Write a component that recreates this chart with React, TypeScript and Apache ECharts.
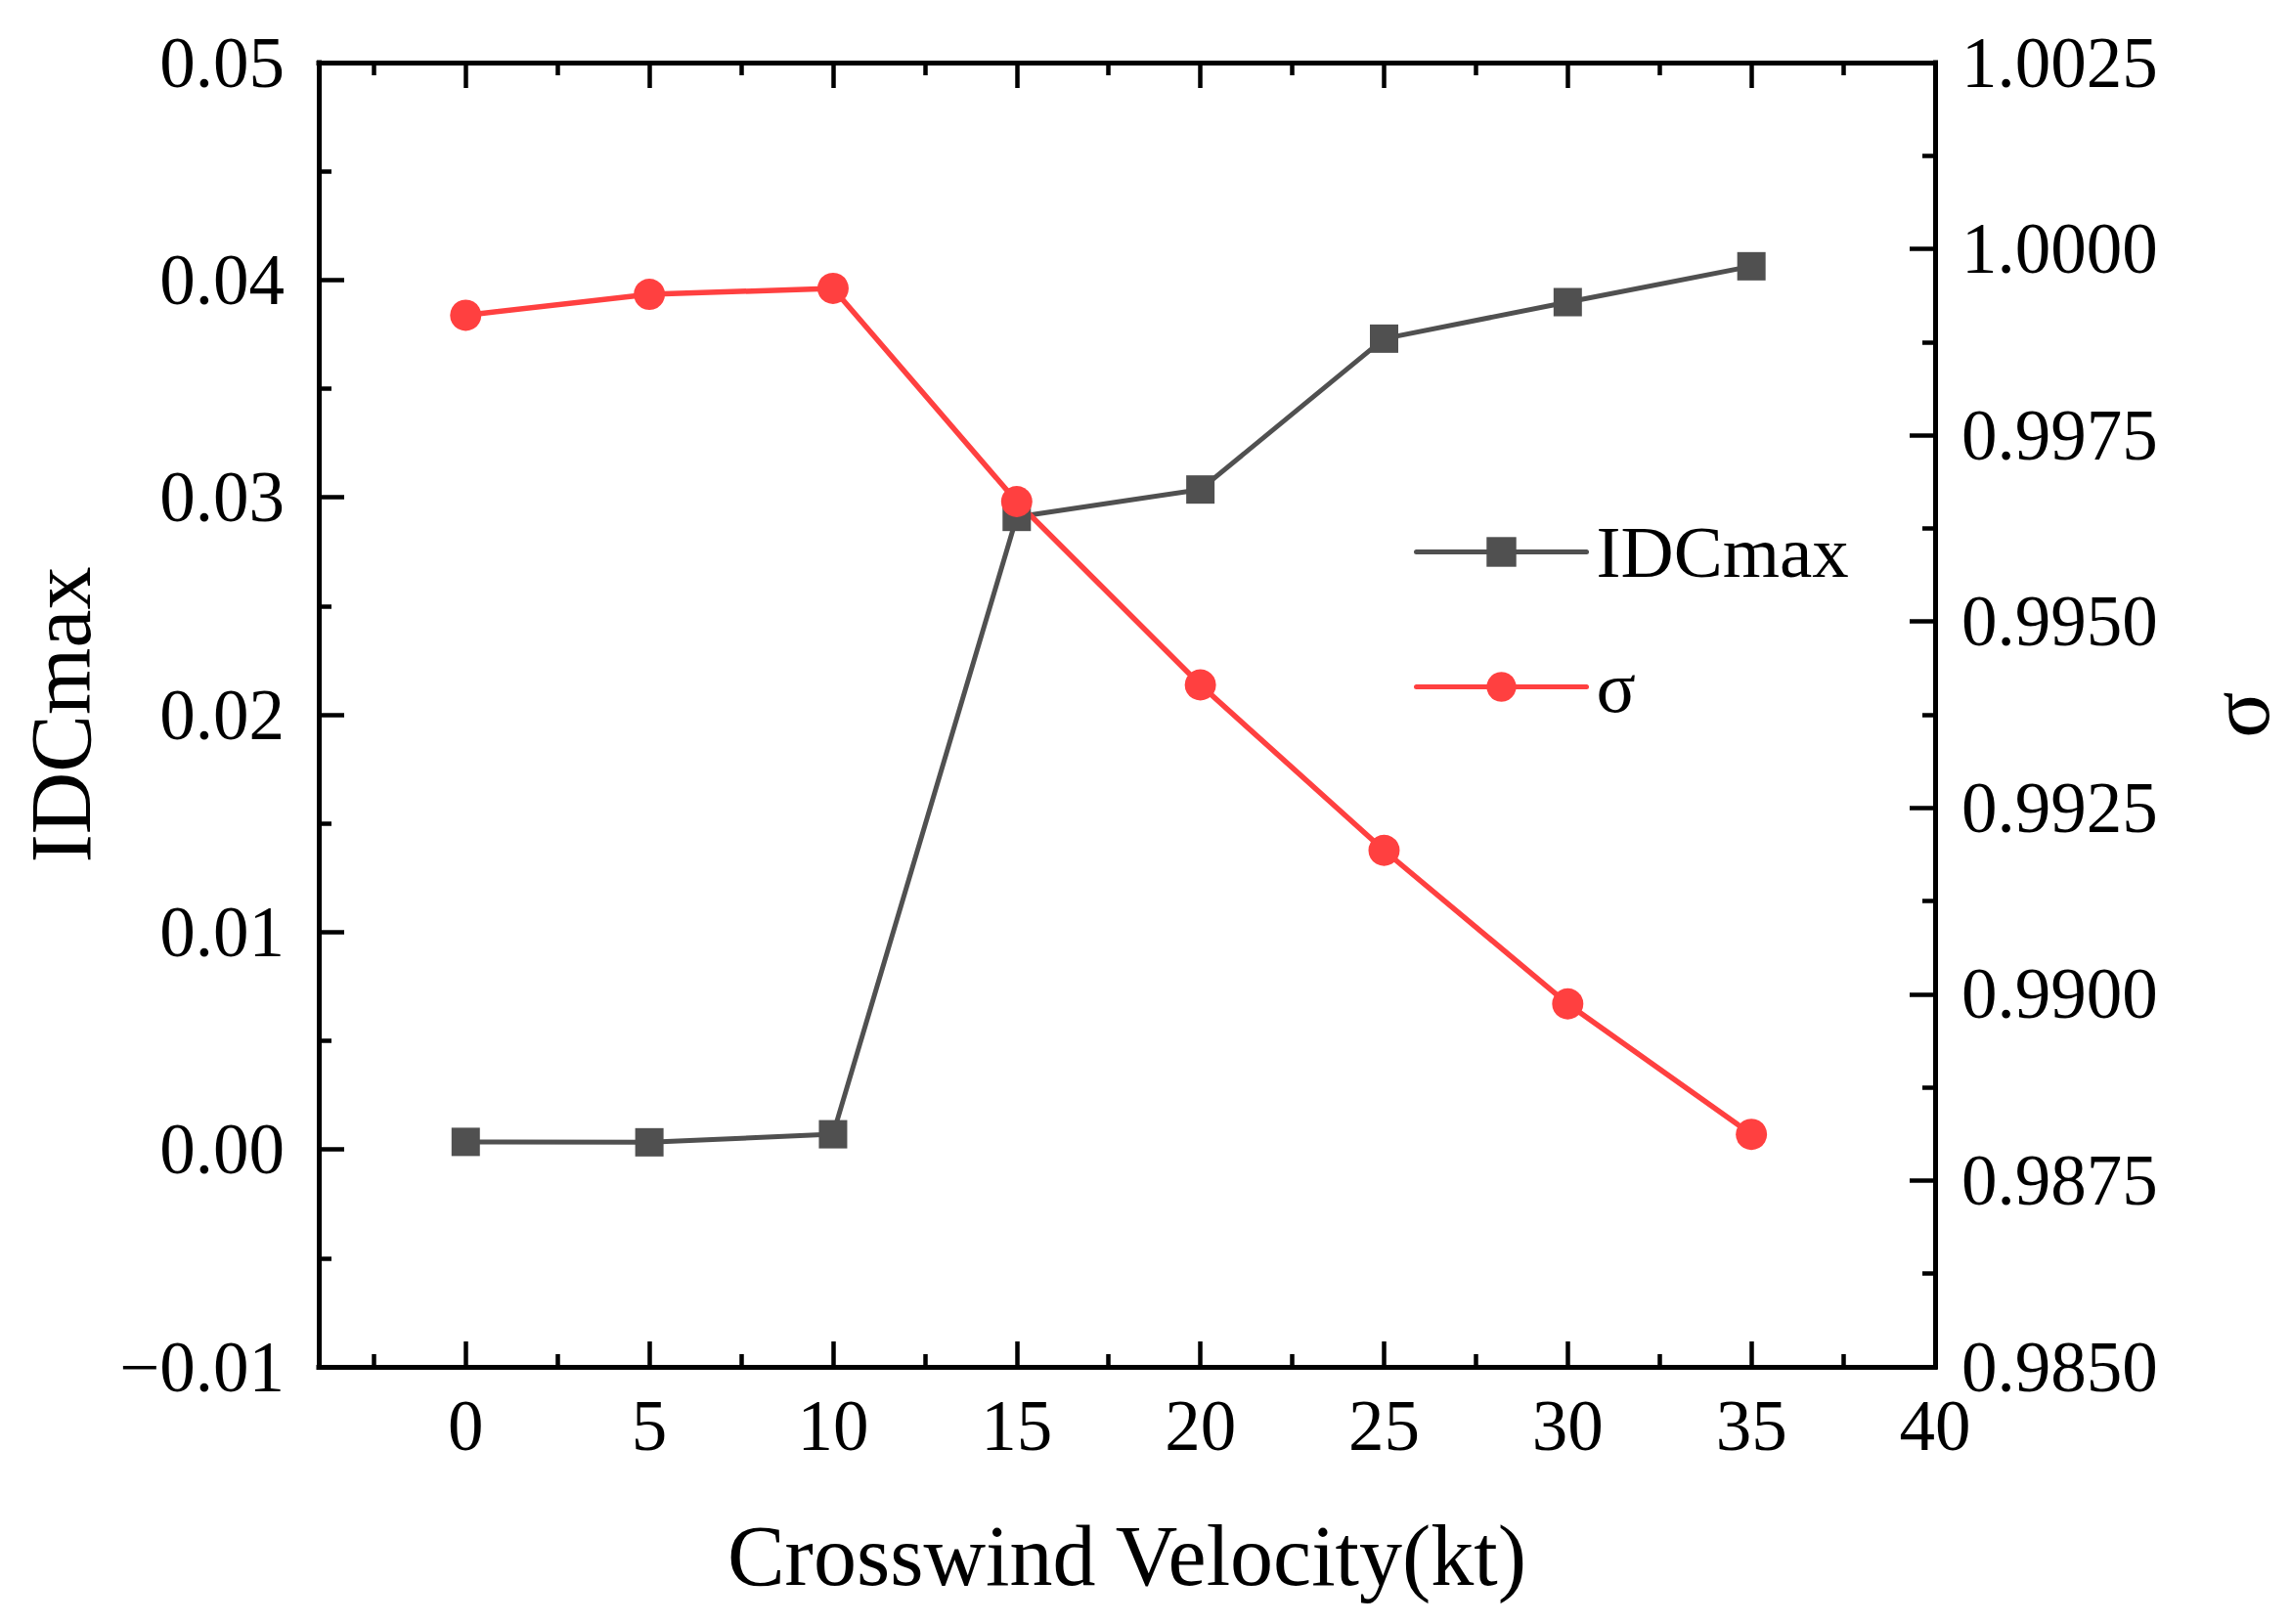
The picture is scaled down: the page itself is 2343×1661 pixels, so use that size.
import React, { useEffect, useRef } from 'react';
import * as echarts from 'echarts';

// crosswind velocity (kt)
const velocity = [0, 5, 10, 15, 20, 25, 30, 35];
// IDCmax (left axis)
const idcMax = [0.00035, 0.00033, 0.0007, 0.0291, 0.03036, 0.0373, 0.03898, 0.04063];
// sigma (right axis)
const sigma = [0.99911, 0.99939, 0.99947, 0.99661, 0.99415, 0.99193, 0.98987, 0.98812];

const xMajorTicks = [0, 5, 10, 15, 20, 25, 30, 35, 40];
const xMinorTicks = [-2.5, 2.5, 7.5, 12.5, 17.5, 22.5, 27.5, 32.5, 37.5];

const FONT = '"Liberation Serif", "Times New Roman", serif';
const GRAY = '#505050';
const RED = '#ff4040';

export default function App() {
  const ref = useRef<HTMLDivElement | null>(null);

  useEffect(() => {
    if (!ref.current) return;
    const chart = echarts.init(ref.current, undefined, { renderer: 'svg' });

    const axisLine = { show: true, onZero: false, lineStyle: { color: '#000', width: 5, cap: 'square' } };
    const noLine = { show: false, onZero: false };
    const majorTick = (vals: number[]) => ({
      show: true, inside: true, length: 26, customValues: vals, lineStyle: { color: '#000', width: 4.5 },
    });
    const minorTickX = (vals: number[]) => ({
      show: true, inside: true, length: 13, customValues: vals, lineStyle: { color: '#000', width: 4.5 },
    });
    const xBase = { type: 'value', min: -4, max: 40, splitLine: { show: false } };

    chart.setOption({
      animation: false,
      backgroundColor: '#fff',
      grid: { left: 326, right: 364, top: 64, bottom: 263 },
      legend: {
        orient: 'vertical',
        left: 1441,
        top: 522,
        itemWidth: 174,
        itemHeight: 38,
        itemGap: 63,
        lineStyle: { width: 5, cap: 'round' },
        textStyle: { fontFamily: FONT, fontSize: 75, color: '#000', lineHeight: 75, padding: [0, 0, 0, 5] },
        data: ['IDCmax', 'σ'],
      },
      xAxis: [
        {
          ...xBase,
          position: 'bottom',
          name: 'Crosswind Velocity(kt)',
          nameLocation: 'middle',
          nameGap: 149,
          nameTextStyle: { fontFamily: FONT, fontSize: 88, color: '#000' },
          axisLine,
          axisTick: majorTick(xMajorTicks),
          axisLabel: { customValues: xMajorTicks, fontFamily: FONT, fontSize: 73, color: '#000', margin: 24 },
        },
        { ...xBase, position: 'bottom', axisLine: noLine, axisTick: minorTickX(xMinorTicks), axisLabel: { show: false } },
        { ...xBase, position: 'top', axisLine, axisTick: majorTick(xMajorTicks), axisLabel: { show: false } },
        { ...xBase, position: 'top', axisLine: noLine, axisTick: minorTickX(xMinorTicks), axisLabel: { show: false } },
      ],
      yAxis: [
        {
          type: 'value',
          position: 'left',
          min: -0.01,
          max: 0.05,
          interval: 0.01,
          name: 'IDCmax',
          nameLocation: 'middle',
          nameRotate: 90,
          nameGap: 220,
          nameTextStyle: { fontFamily: FONT, fontSize: 88, color: '#000' },
          axisLine,
          axisTick: { show: true, inside: true, length: 26, lineStyle: { color: '#000', width: 4.5 } },
          minorTick: { show: true, splitNumber: 2, length: 13, lineStyle: { color: '#000', width: 4.5 } },
          axisLabel: {
            fontFamily: FONT, fontSize: 73, color: '#000', margin: 35,
            formatter: (v: number) => (v < -1e-9 ? '\u2212' + Math.abs(v).toFixed(2) : v.toFixed(2)),
          },
          splitLine: { show: false },
        },
        {
          type: 'value',
          position: 'right',
          min: 0.985,
          max: 1.0025,
          interval: 0.0025,
          name: 'σ',
          nameLocation: 'middle',
          nameRotate: 90,
          nameGap: 267,
          nameTextStyle: { fontFamily: FONT, fontSize: 88, color: '#000' },
          axisLine,
          axisTick: { show: true, inside: true, length: 26, lineStyle: { color: '#000', width: 4.5 } },
          minorTick: { show: true, splitNumber: 2, length: 13, lineStyle: { color: '#000', width: 4.5 } },
          axisLabel: { fontFamily: FONT, fontSize: 73, color: '#000', margin: 27, formatter: (v: number) => v.toFixed(4) },
          splitLine: { show: false },
        },
      ],
      series: [
        {
          name: 'IDCmax',
          type: 'line',
          xAxisIndex: 0,
          yAxisIndex: 0,
          data: velocity.map((v, i) => [v, idcMax[i]]),
          symbol: 'rect',
          symbolSize: 29,
          lineStyle: { color: GRAY, width: 5, cap: 'round' },
          itemStyle: { color: GRAY },
        },
        {
          name: 'σ',
          type: 'line',
          xAxisIndex: 0,
          yAxisIndex: 1,
          data: velocity.map((v, i) => [v, sigma[i]]),
          symbol: 'circle',
          symbolSize: 32,
          lineStyle: { color: RED, width: 5.5, cap: 'round' },
          itemStyle: { color: RED },
        },
      ],
    });

    return () => { chart.dispose(); };
  }, []);

  return <div ref={ref} style={{ position: 'fixed', left: 0, top: 0, width: '100vw', height: '100vh' }} />;
}
